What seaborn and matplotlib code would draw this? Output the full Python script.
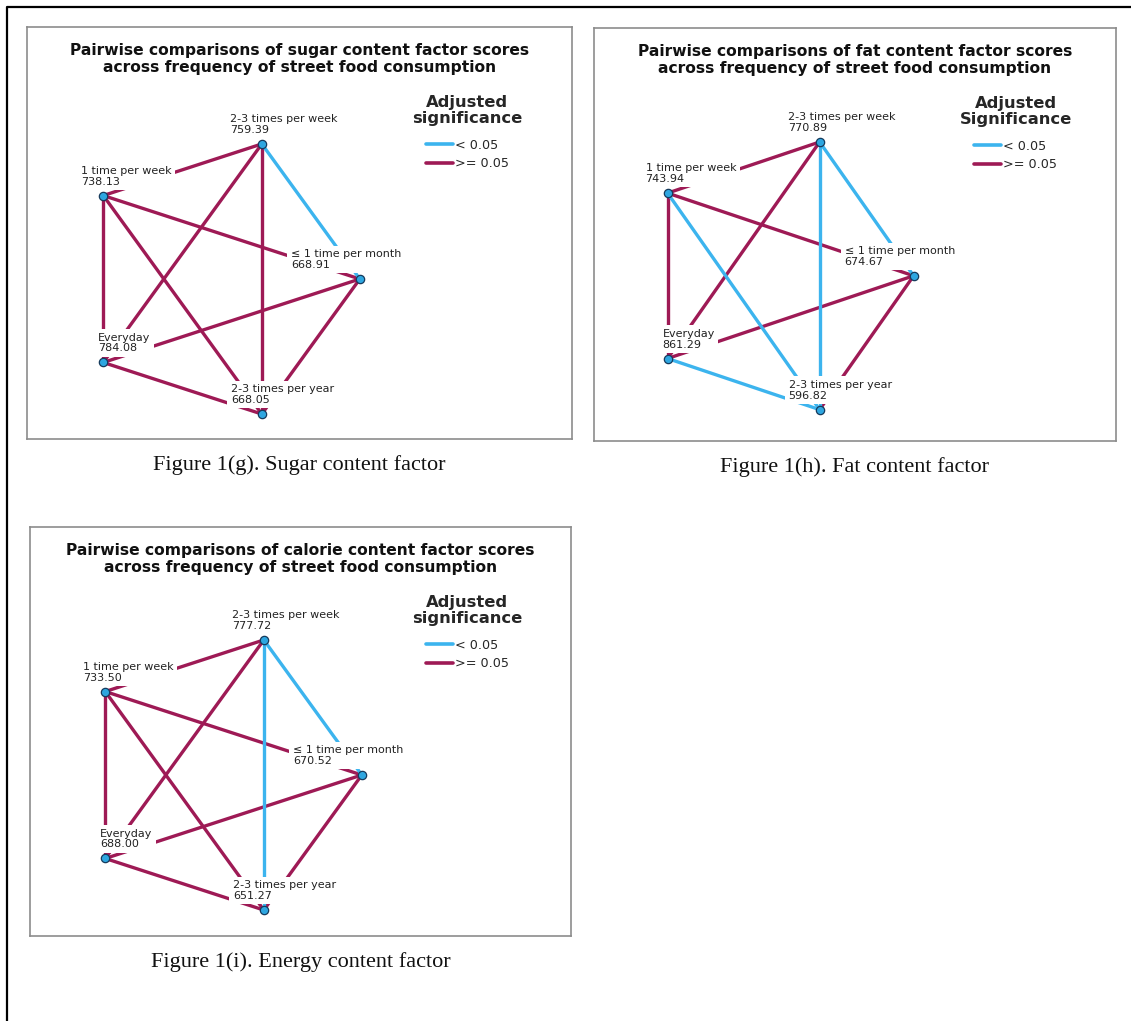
import numpy as np
import pandas as pd
import seaborn as sns
import matplotlib
matplotlib.use("Agg")
import matplotlib.pyplot as plt
from matplotlib.lines import Line2D

sns.set_theme(style="white")
plt.rcParams['font.family'] = ['DejaVu Sans']

# ---------------- data ----------------
categories = ["\u2264 1 time per month", "2-3 times per week", "1 time per week",
              "Everyday", "2-3 times per year"]
pairs = [("2-3 times per week", "1 time per week"),
         ("2-3 times per week", "Everyday"),
         ("2-3 times per week", "2-3 times per year"),
         ("2-3 times per week", "\u2264 1 time per month"),
         ("1 time per week", "\u2264 1 time per month"),
         ("1 time per week", "Everyday"),
         ("1 time per week", "2-3 times per year"),
         ("Everyday", "\u2264 1 time per month"),
         ("Everyday", "2-3 times per year"),
         ("\u2264 1 time per month", "2-3 times per year")]

sugar_ranks = [668.91, 759.39, 738.13, 784.08, 668.05]
fat_ranks = [674.67, 770.89, 743.94, 861.29, 596.82]
calorie_ranks = [670.52, 777.72, 733.50, 688.00, 651.27]

# 1 = adjusted significance < 0.05, 0 = >= 0.05 (same order as pairs)
sugar_sig = [0, 0, 0, 1, 0, 0, 0, 0, 0, 0]
fat_sig = [0, 0, 1, 1, 0, 0, 1, 0, 1, 0]
calorie_sig = [0, 0, 1, 1, 0, 0, 0, 0, 0, 0]

titles = ["Pairwise comparisons of sugar content factor scores\nacross frequency of street food consumption",
          "Pairwise comparisons of fat content factor scores\nacross frequency of street food consumption",
          "Pairwise comparisons of calorie content factor scores\nacross frequency of street food consumption"]
legend_titles = ["Adjusted\nsignificance", "Adjusted\nSignificance", "Adjusted\nsignificance"]
captions = ["Figure 1(g). Sugar content factor", "Figure 1(h). Fat content factor",
            "Figure 1(i). Energy content factor"]
sig_labels = ["< 0.05", ">= 0.05"]

# ---------------- style / layout ----------------
W, H = 1131, 1021
RED = "#9E1A55"
BLUE = "#3CB4EE"
NODE = "#2EA6E0"

# panel boxes (pixels): x0, y0, x1, y1 ; pentagon centre and radii (px, box-relative)
panels = [dict(box=(27, 27, 572, 439), c=(191, 252), r=(141.8, 142.0)),
          dict(box=(594, 28, 1116, 441), c=(183.6, 247.8), r=(136.0, 140.7)),
          dict(box=(30, 527, 571, 936), c=(190, 248), r=(141.8, 142.0))]
# label x offset from node (px)
label_dx = {"\u2264 1 time per month": -69, "2-3 times per week": -32, "1 time per week": -22,
            "Everyday": -5, "2-3 times per year": -31}

fig = plt.figure(figsize=(W / 100, H / 100), dpi=100)
fig.patch.set_facecolor("white")

datasets = [(sugar_ranks, sugar_sig), (fat_ranks, fat_sig), (calorie_ranks, calorie_sig)]

for k, (ranks, sig) in enumerate(datasets):
    p = panels[k]
    x0, y0, x1, y1 = p["box"]
    w, h = x1 - x0, y1 - y0
    ax = fig.add_axes([x0 / W, 1 - y1 / H, w / W, h / H])
    ax.set_xlim(0, w)
    ax.set_ylim(h, 0)

    # pentagon layout positions
    ang = np.deg2rad(72 * np.arange(len(categories)))
    nx = p["c"][0] + p["r"][0] * np.cos(ang)
    ny = p["c"][1] - p["r"][1] * np.sin(ang)
    nodes = pd.DataFrame({"cat": categories, "x": nx, "y": ny, "rank": ranks})
    pos = nodes.set_index("cat")

    rows = []
    for i, (a, b) in enumerate(pairs):
        lab = sig_labels[0] if sig[i] == 1 else sig_labels[1]
        for c in (a, b):
            rows.append(dict(edge=i, x=pos.loc[c, "x"], y=pos.loc[c, "y"], sig=lab))
    edges = pd.DataFrame(rows)

    sns.lineplot(data=edges, x="x", y="y", units="edge", hue="sig", estimator=None,
                 sort=False, palette={sig_labels[0]: BLUE, sig_labels[1]: RED},
                 hue_order=[sig_labels[1], sig_labels[0]],
                 linewidth=2.4, legend=False, ax=ax, zorder=2)

    for _, r in nodes.iterrows():
        ax.text(r["x"] + label_dx[r["cat"]], r["y"] - 9, f"{r['cat']}\n{r['rank']:.2f}",
                ha="left", va="bottom", fontsize=8.0, linespacing=1.1, color="#222222",
                bbox=dict(facecolor="white", edgecolor="none", pad=2.4), zorder=4)

    sns.scatterplot(data=nodes, x="x", y="y", s=36, color=NODE, edgecolor="#163a5c",
                    linewidth=0.9, ax=ax, zorder=5, legend=False)

    ax.set_xlim(0, w)
    ax.set_ylim(h, 0)
    ax.set_xlabel("")
    ax.set_ylabel("")
    ax.set_xticks([])
    ax.set_yticks([])
    for s in ax.spines.values():
        s.set_color("#8c8c8c")
        s.set_linewidth(1.2)
        s.set_visible(True)

    ax.text(0.5, 1 - 16 / h, titles[k], transform=ax.transAxes, ha="center", va="top",
            fontsize=11.2, fontweight="bold", linespacing=1.2, color="#111111")

    handles = [Line2D([0], [0], color=BLUE, lw=2.6), Line2D([0], [0], color=RED, lw=2.6)]
    leg = ax.legend(handles, sig_labels, title=legend_titles[k], loc="upper center",
                    bbox_to_anchor=(0.808, 1 - 68 / h), frameon=False,
                    fontsize=9.2, title_fontproperties={"weight": "bold", "size": 11.8},
                    handlelength=2.1, handletextpad=0.15, labelspacing=0.4,
                    borderpad=0, borderaxespad=0)
    leg.get_title().set_multialignment("center")
    leg.get_title().set_linespacing(1.12)
    leg._legend_box.sep = 9

    fig.text((x0 + x1) / 2 / W, 1 - (y1 + 26) / H, captions[k], ha="center", va="center",
             family="Liberation Serif", fontsize=16, color="#111111")

# outer border (left and top)
fig.add_artist(Line2D([7 / W, 7 / W, 1.0], [0.0, 1 - 7 / H, 1 - 7 / H],
                      transform=fig.transFigure, color="black", lw=1.6))

fig.savefig("out.png", dpi=100, facecolor="white")
